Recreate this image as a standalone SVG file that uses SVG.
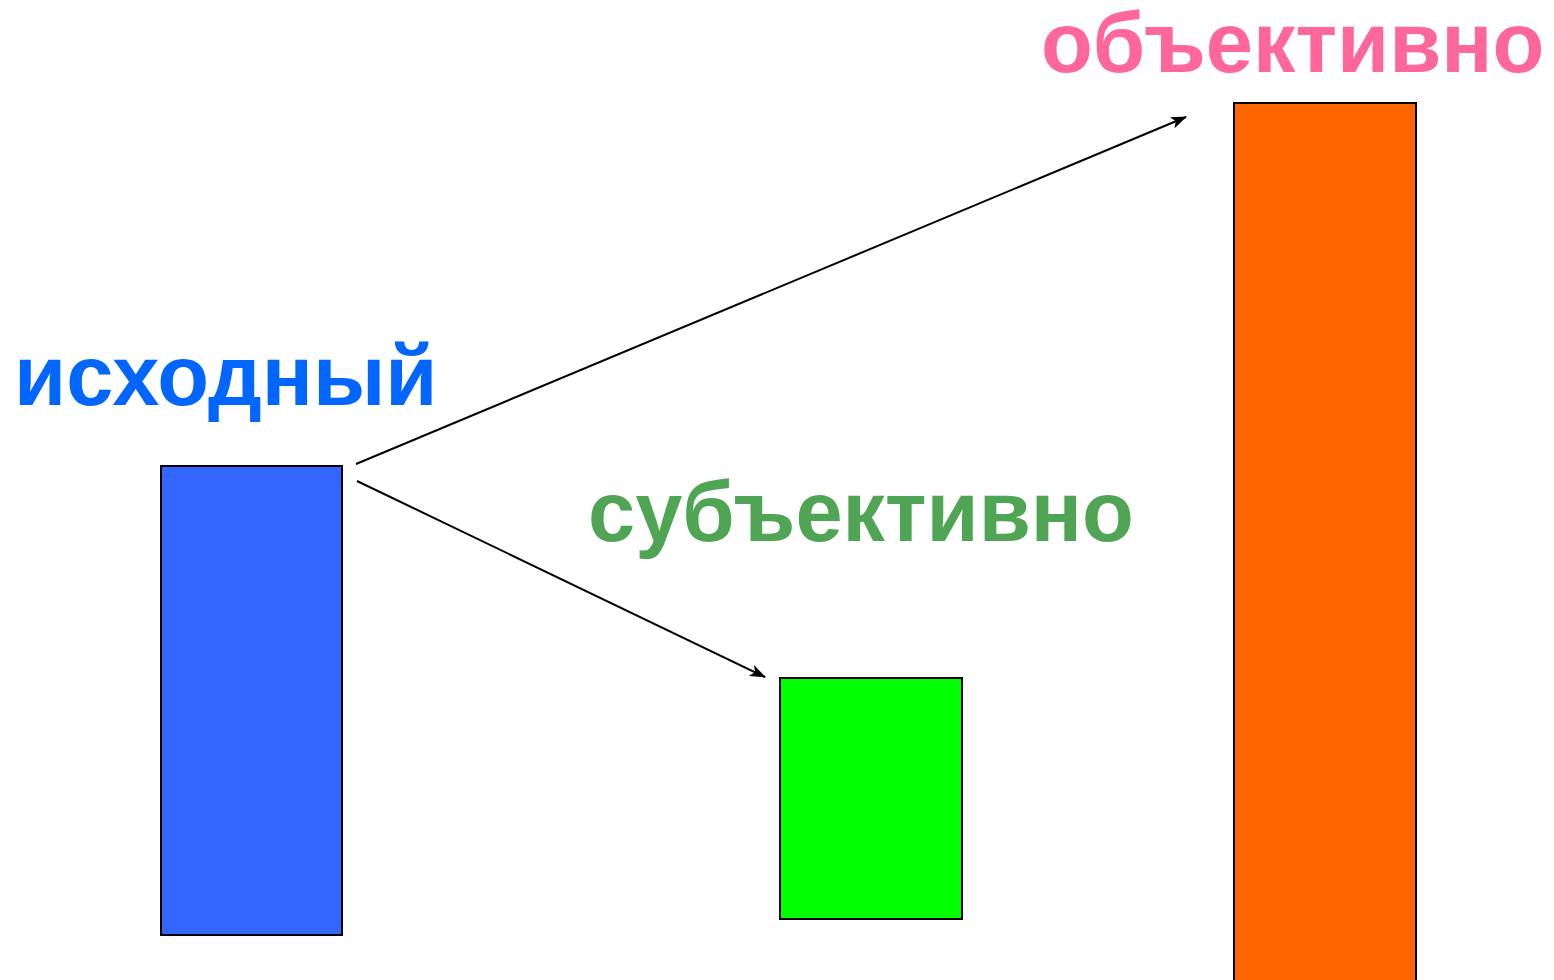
<svg xmlns="http://www.w3.org/2000/svg" width="1554" height="980" viewBox="0 0 1554 980">
<style>
.lbl{font-family:"Liberation Sans",Arial,sans-serif;font-weight:bold;font-size:84.8px}
.box{stroke:#000;stroke-width:2}
.conn{stroke:#000;stroke-width:2;fill:none}
</style>
<defs>
<marker id="arr" viewBox="0 0 16 12" refX="15" refY="6" markerWidth="16" markerHeight="12" markerUnits="userSpaceOnUse" orient="auto">
<path d="M0,0 L16,6 L0,12 L4,6 Z" fill="#000"/>
</marker>
</defs>
<rect width="1554" height="980" fill="#fff"/>
<g id="source">
<rect class="box" x="161" y="466" width="181" height="469" fill="#3366FF"/>
<text class="lbl" x="14" y="405" fill="#0066FF">исходный</text>
</g>
<g id="subjective">
<rect class="box" x="780" y="678" width="182" height="241" fill="#00FF00"/>
<text class="lbl" x="588" y="541" fill="#4FA553">субъективно</text>
</g>
<g id="objective">
<rect class="box" x="1234" y="103" width="182" height="880" fill="#FF6600"/>
<text class="lbl" x="1041" y="72" fill="#FF6699">объективно</text>
</g>
<g id="connectors">
<line class="conn" x1="356" y1="464" x2="1186" y2="117" marker-end="url(#arr)"/>
<line class="conn" x1="357" y1="481" x2="765" y2="677" marker-end="url(#arr)"/>
</g>
</svg>
